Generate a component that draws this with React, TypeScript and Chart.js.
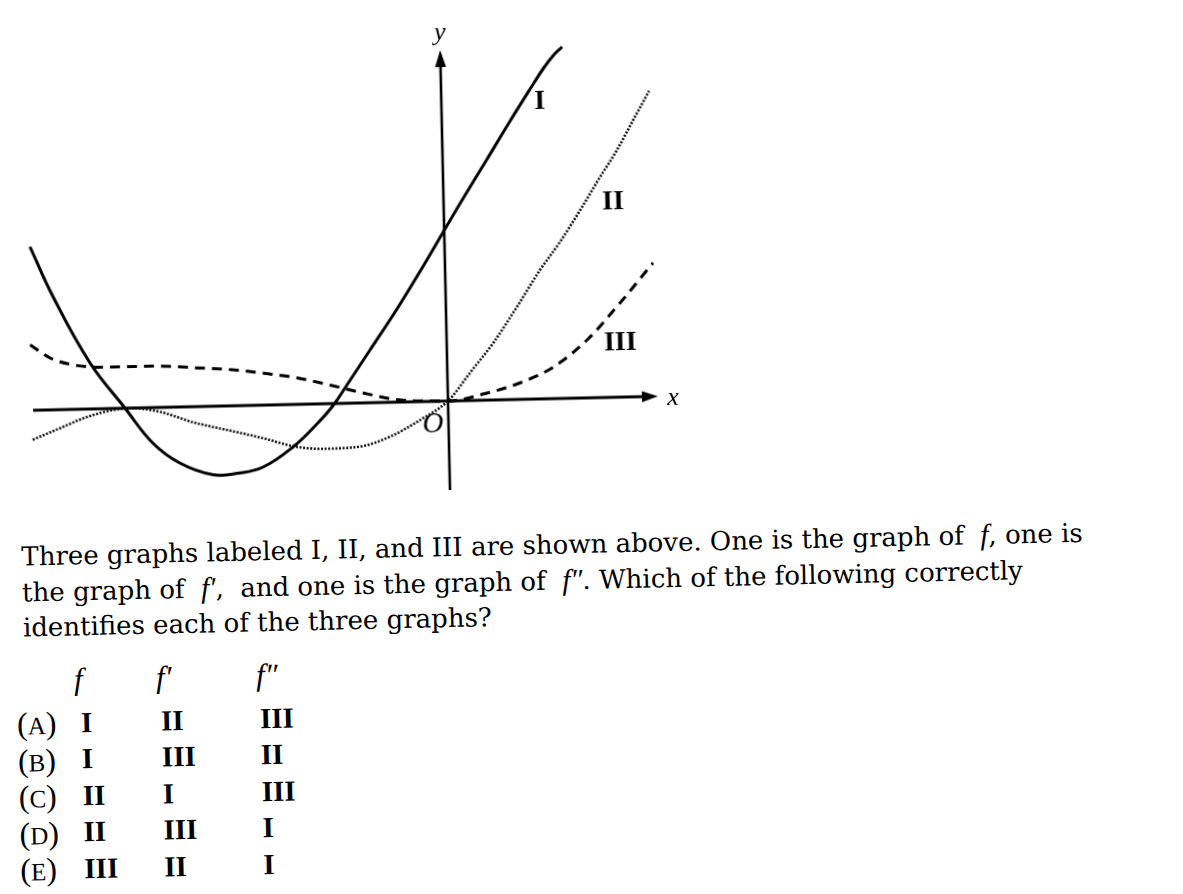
import React, { useEffect, useRef } from "react";
import { Chart, registerables } from "chart.js";

Chart.register(...registerables);

// Graph I (solid)
const graphIX = [-8.29, -7.85, -7.14, -6.46, -5.92, -5.39, -4.73, -4.23, -3.73, -3.12, -2.63, -2.3, -2.01, -1.54, -0.98, -0.44, -0.02, 0.39, 0.89, 1.36, 1.78, 2.05, 2.25, 2.44];
const graphIY = [3.27, 2.26, 0.92, 0.0, -0.71, -1.12, -1.37, -1.35, -1.24, -0.85, -0.4, -0.04, 0.37, 1.05, 1.86, 2.7, 3.38, 4.04, 4.82, 5.56, 6.2, 6.6, 6.85, 7.03];

// Graph II (dotted)
const graphIIX = [-8.32, -7.77, -7.23, -6.7, -6.36, -5.76, -5.11, -4.23, -3.72, -3.04, -2.52, -1.84, -1.18, -0.57, 0, 0.45, 0.93, 1.42, 1.9, 2.31, 2.73, 3.14, 3.49, 3.83, 4.16];
const graphIIY = [-0.59, -0.37, -0.16, -0.03, 0.0, -0.09, -0.31, -0.53, -0.66, -0.85, -0.9, -0.88, -0.69, -0.37, 0, 0.55, 1.14, 1.85, 2.58, 3.13, 3.76, 4.41, 4.94, 5.54, 6.11];

// Graph III (dashed)
const graphIIIX = [-8.33, -7.94, -7.48, -6.88, -5.88, -4.95, -4.29, -3.69, -3.01, -2.35, -1.7, -1.02, -0.36, 0, 0.78, 1.45, 2.12, 2.81, 3.48, 4.16];
const graphIIIY = [1.31, 1.04, 0.89, 0.83, 0.83, 0.77, 0.72, 0.64, 0.53, 0.37, 0.2, 0.05, 0.01, 0, 0.14, 0.33, 0.63, 1.16, 1.88, 2.67];

// Curve labels and their anchor positions (data units)
const curveLabels = ["I", "II", "III"];
const curveLabelX = [1.97, 3.39, 3.47];
const curveLabelY = [5.94, 3.91, 1.08];

// Axis extents (data units)
const xAxisRange = [-8.3, 4.2];
const yAxisRange = [-1.78, 7.02];
const viewX = [-8.96, 14.7];
const viewY = [-2.18, 8.02];

// Answer choices
const choiceLetters = ["A", "B", "C", "D", "E"];
const choiceF = ["I", "I", "II", "II", "III"];
const choiceF1 = ["II", "III", "I", "III", "II"];
const choiceF2 = ["III", "II", "III", "I", "I"];

const toPoints = (xs: number[], ys: number[]) => xs.map((x, i) => ({ x, y: ys[i] }));

const SERIF_NUM = '"Liberation Serif", "Times New Roman", serif';
const TEXT_FONT = '"DejaVu Serif", serif';

const axesPlugin = {
  id: "mathAxes",
  beforeDatasetsDraw(chart: any) {
    const { ctx, scales } = chart;
    const xs = scales.x;
    const ys = scales.y;
    const x0 = xs.getPixelForValue(0);
    const y0 = ys.getPixelForValue(0);
    const xl = xs.getPixelForValue(xAxisRange[0]);
    const xr = xs.getPixelForValue(xAxisRange[1]);
    const yb = ys.getPixelForValue(yAxisRange[0]);
    const yt = ys.getPixelForValue(yAxisRange[1]);
    ctx.save();
    ctx.strokeStyle = "#000";
    ctx.fillStyle = "#000";
    ctx.lineWidth = 3;
    ctx.beginPath();
    ctx.moveTo(xl, y0);
    ctx.lineTo(xr - 10, y0);
    ctx.stroke();
    ctx.lineWidth = 2.6;
    ctx.beginPath();
    ctx.moveTo(x0, yb);
    ctx.lineTo(x0, yt + 10);
    ctx.stroke();
    ctx.beginPath();
    ctx.moveTo(xr, y0);
    ctx.lineTo(xr - 16, y0 - 5.5);
    ctx.lineTo(xr - 16, y0 + 5.5);
    ctx.closePath();
    ctx.fill();
    ctx.beginPath();
    ctx.moveTo(x0, yt);
    ctx.lineTo(x0 - 5.5, yt + 17);
    ctx.lineTo(x0 + 5.5, yt + 17);
    ctx.closePath();
    ctx.fill();
    ctx.restore();
  },
  afterDatasetsDraw(chart: any) {
    const { ctx, scales } = chart;
    const xs = scales.x;
    const ys = scales.y;
    ctx.save();
    ctx.fillStyle = "#000";
    ctx.textAlign = "center";
    ctx.textBaseline = "middle";
    ctx.font = `bold 28px ${SERIF_NUM}`;
    curveLabels.forEach((t, i) => {
      ctx.fillText(t, xs.getPixelForValue(curveLabelX[i]), ys.getPixelForValue(curveLabelY[i]));
    });
    ctx.font = `italic 26px ${SERIF_NUM}`;
    ctx.fillText("y", xs.getPixelForValue(0), ys.getPixelForValue(7.36));
    ctx.fillText("x", xs.getPixelForValue(4.5), ys.getPixelForValue(-0.04));
    ctx.font = `italic 29px ${SERIF_NUM}`;
    ctx.fillText("O", xs.getPixelForValue(-0.31), ys.getPixelForValue(-0.47));
    ctx.restore();
  },
};

const It = ({ children }: { children: any }) => (
  <span style={{ fontStyle: "italic", fontFamily: SERIF_NUM, fontSize: "1.12em" }}>{children}</span>
);

export default function App() {
  const ref = useRef<HTMLCanvasElement>(null);

  useEffect(() => {
    if (!ref.current) return;
    const common = { pointRadius: 0, borderColor: "#000", fill: false };
    const chart = new Chart(ref.current, {
      type: "line",
      data: {
        datasets: [
          { ...common, label: "I", data: toPoints(graphIX, graphIY), borderWidth: 3, tension: 0.4 },
          {
            ...common,
            label: "II",
            data: toPoints(graphIIX, graphIIY),
            borderWidth: 2.6,
            borderDash: [2, 1.6],
            borderColor: "#111",
            cubicInterpolationMode: "monotone",
          },
          {
            ...common,
            label: "III",
            data: toPoints(graphIIIX, graphIIIY),
            borderWidth: 3,
            borderDash: [10, 7],
            cubicInterpolationMode: "monotone",
          },
        ],
      },
      options: {
        animation: false,
        responsive: false,
        devicePixelRatio: 1,
        layout: { padding: 0 },
        parsing: false as any,
        plugins: { legend: { display: false }, tooltip: { enabled: false } },
        scales: {
          x: { type: "linear", min: viewX[0], max: viewX[1], display: false },
          y: { type: "linear", min: viewY[0], max: viewY[1], display: false },
        },
      },
      plugins: [axesPlugin],
    });
    return () => chart.destroy();
  }, []);

  const textSize = 26;
  const lineStyle = (baseline: number): React.CSSProperties => ({
    position: "absolute",
    left: 18,
    top: baseline - 0.846 * textSize,
    fontFamily: TEXT_FONT,
    fontSize: textSize,
    lineHeight: `${textSize}px`,
    whiteSpace: "pre",
    color: "#000",
  });

  const numSize = 29;
  const cell = (left: number, baseline: number, size: number = numSize): React.CSSProperties => ({
    position: "absolute",
    left,
    top: baseline - 0.8375 * size,
    fontFamily: SERIF_NUM,
    fontSize: size,
    lineHeight: `${size}px`,
    fontWeight: "bold",
    whiteSpace: "pre",
    color: "#000",
  });

  const headerBaseline = 681;
  const rowBaselines = choiceLetters.map((_, i) => 724 + i * 36.5);

  return (
    <div style={{ position: "absolute", left: 0, top: 0, width: 1183, height: 894, overflow: "hidden", background: "#fff" }}>
      <div
        style={{
          position: "absolute",
          left: 0,
          top: 0,
          width: 1183,
          height: 894,
          transform: "rotate(-1.28deg)",
          transformOrigin: "448px 401px",
        }}
      >
        <canvas ref={ref} width={1183} height={510} style={{ position: "absolute", left: 0, top: 0, width: 1183, height: 510 }} />
        <div style={lineStyle(555)}>
          Three graphs labeled I, II, and III are shown above. One is the graph of  <It>f</It>, one is
        </div>
        <div style={lineStyle(591)}>
          the graph of  <It>f′</It>,  and one is the graph of  <It>f″</It>. Which of the following correctly
        </div>
        <div style={lineStyle(627)}>identifies each of the three graphs?</div>

        <div style={{ ...cell(68, headerBaseline, 31), fontWeight: "normal", fontStyle: "italic" }}>f</div>
        <div style={{ ...cell(150, headerBaseline, 31), fontWeight: "normal", fontStyle: "italic" }}>f′</div>
        <div style={{ ...cell(250, headerBaseline, 31), fontWeight: "normal", fontStyle: "italic" }}>f″</div>

        {choiceLetters.map((c, i) => (
          <React.Fragment key={c}>
            <div style={{ ...cell(10, rowBaselines[i] + 1, 32), fontWeight: "normal" }}>
              (<span style={{ fontSize: "0.78em" }}>{c}</span>)
            </div>
            <div style={cell(74, rowBaselines[i])}>{choiceF[i]}</div>
            <div style={cell(154, rowBaselines[i])}>{choiceF1[i]}</div>
            <div style={cell(253, rowBaselines[i])}>{choiceF2[i]}</div>
          </React.Fragment>
        ))}
      </div>
    </div>
  );
}
